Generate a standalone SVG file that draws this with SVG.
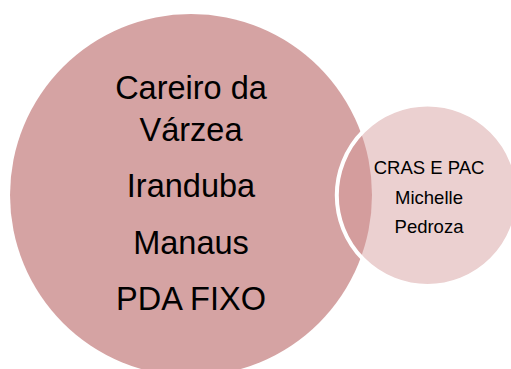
<svg xmlns="http://www.w3.org/2000/svg" width="511" height="369" viewBox="0 0 511 369">
<style>
.big{fill:#D5A3A3}
.small{fill:rgb(211,150,150);fill-opacity:0.45;stroke:#FFFFFF;stroke-width:4}
.t{font-family:"Liberation Sans",Arial,sans-serif;fill:#000000;text-anchor:middle}
.tb{font-size:32.5px}
.ts{font-size:18.5px}
</style>
<rect x="0" y="0" width="511" height="369" fill="#FFFFFF"/>
<g id="node-municipios">
<circle class="big" cx="191" cy="195" r="181"/>
<text class="t tb" x="191" y="99">Careiro da</text>
<text class="t tb" x="191" y="141">Várzea</text>
<text class="t tb" x="191" y="197">Iranduba</text>
<text class="t tb" x="191" y="254">Manaus</text>
<text class="t tb" x="191" y="310">PDA FIXO</text>
</g>
<g id="node-cras">
<circle class="small" cx="427.5" cy="195.3" r="90.7"/>
<text class="t ts" x="429" y="174">CRAS E PAC</text>
<text class="t ts" x="429" y="204">Michelle</text>
<text class="t ts" x="429" y="233">Pedroza</text>
</g>
<g id="connectors"></g>
</svg>
